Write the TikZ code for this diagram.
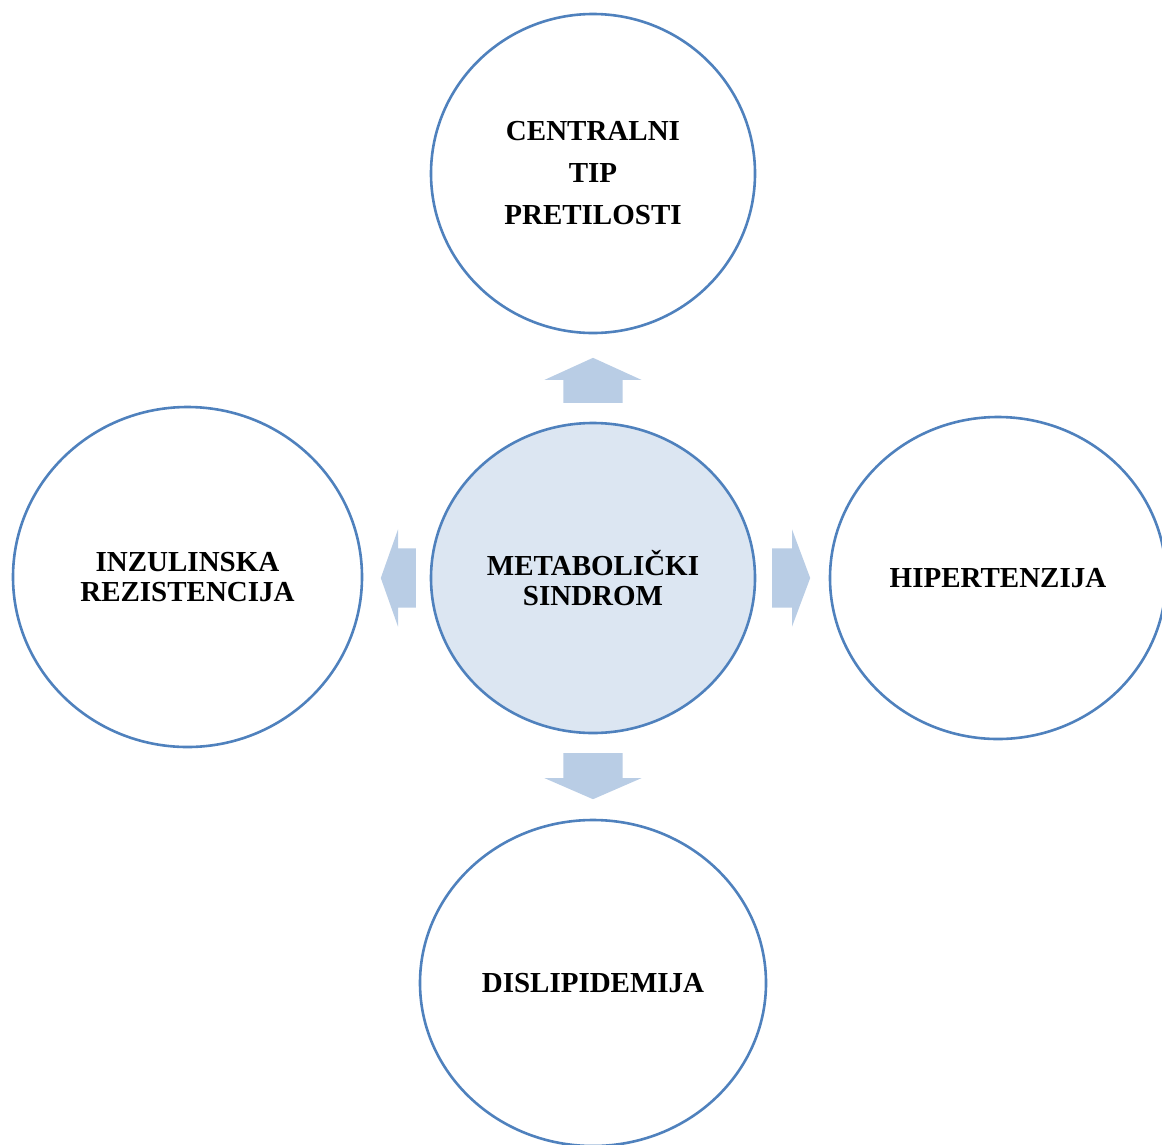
\documentclass[tikz,border=0pt]{standalone}
\usepackage{fontspec}
\setmainfont{Liberation Serif}
\usepackage{xcolor}
\definecolor{ringblue}{RGB}{79,129,189}
\definecolor{hubfill}{RGB}{220,230,242}
\definecolor{arrowfill}{RGB}{185,205,229}
\usepackage{tikz}
\usetikzlibrary{shapes.geometric,shapes.arrows,positioning}

\begin{document}
\begin{tikzpicture}[x=1pt, y=1pt, bubble/.style={
    	ellipse, draw = ringblue, line width = 2.6pt, fill = white, inner sep = 0pt,
    	align = center, font = \fontsize{29}{30}\selectfont\bfseries},
    	blockarrow/.style={single arrow, fill = arrowfill, draw = none,
    	single arrow head extend = 19pt, minimum width = 97pt}]
    	\useasboundingbox (0,0) rectangle (1162,-1144);
    	\node (met) [bubble, fill = hubfill, minimum width = 324pt, minimum height = 310pt] at (593,-578) {METABOLIČKI\\SINDROM};
    	\node (tip) [bubble, minimum width = 324pt, minimum height = 319pt, above=87.4pt of met, font = \fontsize{29}{42}\selectfont\bfseries] {CENTRALNI\\TIP\\PRETILOSTI};
    	\node (inz) [bubble, minimum width = 349pt, minimum height = 340pt, left=66.4pt of met, yshift=1pt] {INZULINSKA\\REZISTENCIJA};
    	\node (hip) [bubble, minimum width = 336pt, minimum height = 322pt, right=72.4pt of met] {HIPERTENZIJA};
    	\node (dis) [bubble, minimum width = 346pt, minimum height = 326pt, below=84.4pt of met] {DISLIPIDEMIJA};
    	\node (up) [blockarrow, shape border rotate = 90, inner xsep = 29.5pt, inner ysep = 0pt, minimum height = 45pt,
    		single arrow tip angle = 131, above=18.7pt of met, anchor=tail] {};
    	\node (down) [blockarrow, shape border rotate = 270, inner xsep = 29.5pt, inner ysep = 0pt, minimum height = 46pt,
    		single arrow tip angle = 133, below=18.7pt of met, anchor=tail] {};
    	\node (right) [blockarrow, inner xsep = 0pt, inner ysep = 29.5pt, minimum height = 38pt,
    		single arrow tip angle = 139, right=15.7pt of met, anchor=tail] {};
    	\node (left) [blockarrow, shape border rotate = 180, inner xsep = 0pt, inner ysep = 29.5pt, minimum height = 35pt,
    		single arrow tip angle = 141, left=13.7pt of met, anchor=tail] {};
\end{tikzpicture}
\end{document}
